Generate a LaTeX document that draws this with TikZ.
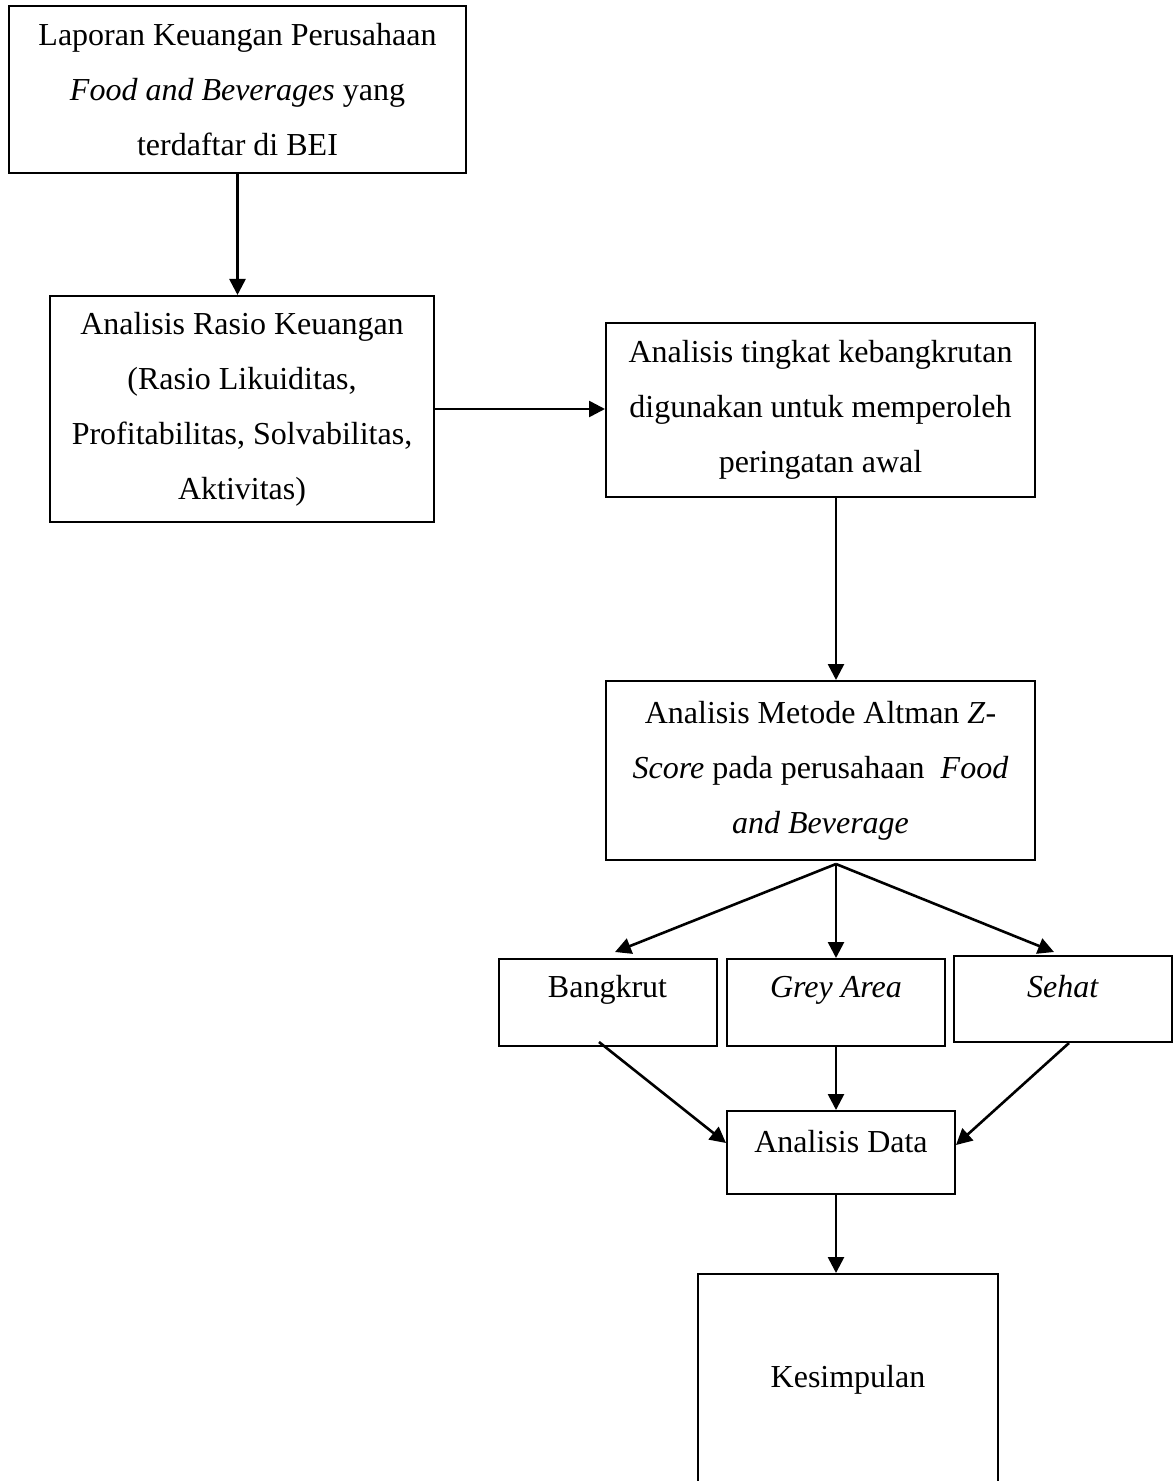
\documentclass[tikz,border=0pt]{standalone}
\usepackage{fontspec}
\setmainfont{Liberation Serif}
\usetikzlibrary{arrows.meta,calc,positioning}
\begin{document}
\begin{tikzpicture}[x=0.5pt,y=-0.5pt,
	kotak/.style={draw,line width=1pt,align=center,inner sep=0pt,font=\fontsize{16}{27.5}\selectfont},
	kecil/.style={kotak,minimum width=109pt,minimum height=43.5pt,text height=11pt,text depth=16pt},
	panah/.style={line width=1.3pt,-{Triangle[length=8pt,width=8pt]}}]
	\useasboundingbox (0,0) rectangle (1175,1481);
	\node[kotak,minimum width=228.5pt,minimum height=83.5pt] (laporan) at (237.5,89.5) {Laporan Keuangan Perusahaan\\\textit{Food and Beverages} yang\\terdaftar di BEI};
	\node[kotak,minimum width=192pt,minimum height=113pt] (rasio) at (242,409) {Analisis Rasio Keuangan\\(Rasio Likuiditas,\\Profitabilitas, Solvabilitas,\\Aktivitas)};
	\node[kotak,minimum width=214.5pt,minimum height=87pt] (tingkat) at (820.5,410) {Analisis tingkat kebangkrutan\\digunakan untuk memperoleh\\peringatan awal};
	\node[kotak,minimum width=214.5pt,minimum height=89.5pt] (altman) at (820.5,770.5) {Analisis Metode Altman \textit{Z}-\\\textit{Score} pada perusahaan~~\textit{Food}\\\textit{and Beverage}};
	\node[kecil] (bangkrut) at (607.5,1002.5) {Bangkrut};
	\node[kecil] (grey) at (836,1002.5) {\textit{Grey Area}};
	\node[kecil,minimum height=43pt,text depth=13pt] (sehat) at (1063,999) {\textit{Sehat}};
	\node[kotak,minimum width=114pt,minimum height=41.5pt,text height=11pt,text depth=11.5pt] (data) at (841,1152.5) {Analisis Data};
	\node[kotak,minimum width=150pt,minimum height=106pt] (kesimpulan) at (848,1380) {Kesimpulan};
	\coordinate (spine) at (836,0);
	\coordinate (fork) at (836,864);
	\draw[panah] (laporan.south) -- (laporan.south |- rasio.north);
	\draw[panah] (rasio.east) -- (rasio.east -| tingkat.west);
	\draw[panah] (tingkat.south -| spine) -- (altman.north -| spine);
	\draw[panah] (fork) -- ([shift={(3.75pt,3pt)}]bangkrut.north);
	\draw[panah] (fork) -- (grey.north);
	\draw[panah] (fork) -- ([shift={(-4.5pt,1.5pt)}]sehat.north);
	\draw[panah] ([shift={(-4.25pt,2.5pt)}]bangkrut.south) -- ([yshift=4.75pt]data.west);
	\draw[panah] (grey.south) -- (grey.south |- data.north);
	\draw[panah] ([shift={(3pt,0pt)}]sehat.south) -- ([yshift=3.75pt]data.east);
	\draw[panah] (data.south -| spine) -- (kesimpulan.north -| spine);
\end{tikzpicture}
\end{document}
